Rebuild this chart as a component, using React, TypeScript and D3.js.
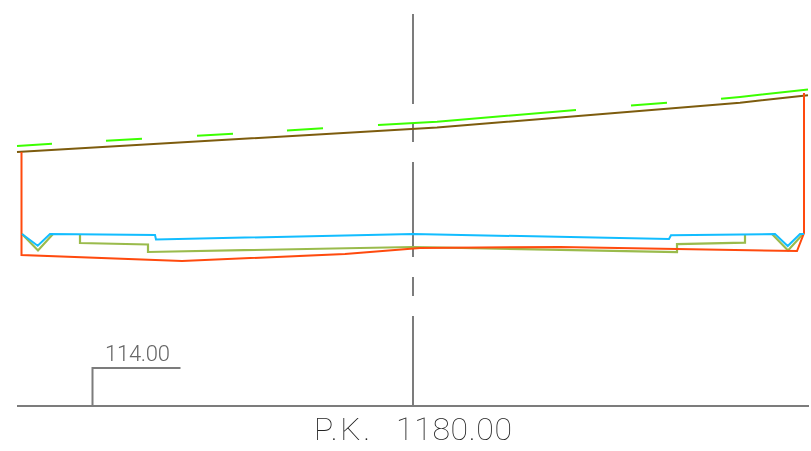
import React from "react";
import * as d3 from "d3";

// Offsets from the centre line (drawing units) and levels above the datum.
type P = [number, number];
const axisOffsets: number[] = [-396, 396];
const centerDashes: P[][] = [
  [[0, 392], [0, 302]],
  [[0, 283], [0, 264]],
  [[0, 244], [0, 149]],
  [[0, 129], [0, 110]],
  [[0, 90], [0, 0]],
];
const terrainDashes: P[][] = [
  [[-396, 260], [-361, 262.2]],
  [[-307, 265.3], [-271, 267.3]],
  [[-216, 270.3], [-180, 272.3]],
  [[-126, 275.5], [-90, 277.7]],
  [[-35, 281], [24, 284.2], [163, 296]],
  [[218, 300.4], [254, 303.2]],
  [[308, 307.3], [327, 309], [395, 316.5]],
];
const subgrade: P[] = [[-396, 254], [24, 278.4], [327, 303.3], [395, 310.8]];
const redOutline: P[] = [[-391.5, 254], [-391.5, 151], [-231, 145], [-68, 152], [7, 158], [147, 159], [384, 155], [391, 173], [391, 313]];
const blueSurface: P[] = [[-391, 172], [-375.3, 160.3], [-363, 172], [-258, 171], [-257, 166.5], [0, 172], [256, 167], [258, 170.8], [362, 172], [374.7, 160], [387, 172], [391, 172]];
const oliveLeft: P[] = [[-391, 172], [-375, 155.5], [-360, 172]];
const oliveLayer: P[] = [[-333, 172], [-333, 163], [-265, 161.5], [-265, 154], [0, 159], [264, 153.8], [264, 161.8], [332, 163.3], [332, 172]];
const oliveRight: P[] = [[359, 172], [375, 155.5], [390, 172]];
const dimension: P[] = [[-320.5, 0], [-320.5, 38], [-232.5, 38]];
const stationPrefix = "P.K.";
const stationValue = "1180.00";
const levelLabel = "114.00";

const x = d3.scaleLinear().domain([-413, 398]).range([0, 811]);
const y = d3.scaleLinear().domain([0, 406]).range([406, 0]);
const path = d3.line<P>().x((d) => x(d[0])).y((d) => y(d[1]));

const GRAY = "#7c7c7c";
const thinFont = "Roboto, Inter, 'DejaVu Sans', sans-serif";

export default function App() {
  const line = (d: P[], color: string, w = 2, key?: React.Key) => (
    <path key={key} d={path(d) ?? ""} fill="none" stroke={color} strokeWidth={w} strokeLinejoin="miter" />
  );
  return (
    <svg width={811} height={451} style={{ position: "fixed", left: 0, top: 0, background: "#fff" }}>
      <defs>
        <filter id="plain" x="0" y="0" width="1" height="1">
          <feOffset dx={0} dy={0} />
        </filter>
      </defs>
      {centerDashes.map((d, i) => line(d, GRAY, 2, i))}
      {line(axisOffsets.map((o) => [o, 0] as P), GRAY, 2)}
      {line(dimension, GRAY, 2)}
      {terrainDashes.map((d, i) => line(d, "#3cff00", 2, i))}
      {line(subgrade, "#7d5c0e", 2)}
      {line(oliveLeft, "#9abb4c", 2.2)}
      {line(oliveLayer, "#9abb4c", 2.2)}
      {line(oliveRight, "#9abb4c", 2.2)}
      {line(redOutline, "#ff4a0e", 2)}
      {line(blueSurface, "#12bdff", 2)}
      <g filter="url(#plain)" fontFamily={thinFont}>
        <text x={105} y={361} fontSize={22} fontWeight={300} fill="#666" textLength={65} lengthAdjust="spacing">
          {levelLabel}
        </text>
        <text x={314} y={440} fontSize={32} fontWeight={100} fill="#222" textLength={56} lengthAdjust="spacing">
          {stationPrefix}
        </text>
        <text x={396} y={440} fontSize={32} fontWeight={100} fill="#222" textLength={116} lengthAdjust="spacing">
          {stationValue}
        </text>
      </g>
    </svg>
  );
}
